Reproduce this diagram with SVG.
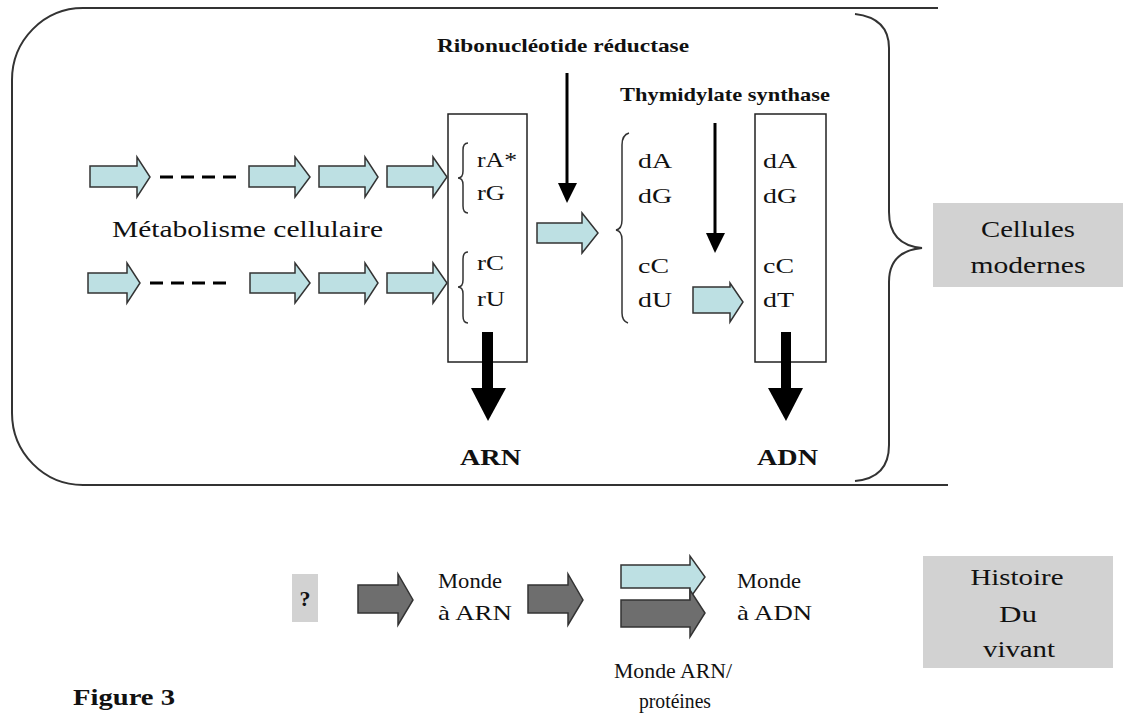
<svg xmlns="http://www.w3.org/2000/svg" width="1136" height="715" viewBox="0 0 1136 715">
<style>
text{font-family:"Liberation Serif","Times New Roman",serif;fill:#111}
.b{font-weight:bold}
.t24{font-size:24px}
.t22{font-size:22px}
.t19{font-size:19px}
.outline{fill:none;stroke:#333;stroke-width:2}
.brace{fill:none;stroke:#333;stroke-width:1.5}
.box{fill:#fff;stroke:#222;stroke-width:1.5}
.lb{fill:#bde0e3;stroke:#333;stroke-width:1.5;stroke-linejoin:miter}
.dk{fill:#6e6e6e;stroke:#333;stroke-width:1.5}
.gray{fill:#d2d2d2}
.dash{stroke:#000;stroke-width:3;stroke-dasharray:13 8}
.thin{stroke:#000;stroke-width:3}
</style>
<rect width="1136" height="715" fill="#fff"/>
<g id="frame">
<path class="outline" d="M938,8 L83,8 A71,72 0 0 0 12,80 L12,413 A71,72 0 0 0 83,485 L948,485"/>
<path class="outline" d="M855,14 Q889,18 889,48 L889,212 Q889,245 922,248 Q889,251 889,282 L889,445 Q889,478 855,481"/>
</g>
<g id="box-ribo">
<rect class="box" x="448" y="114" width="79" height="248"/>
<path class="brace" d="M468,143 Q463,143 463,150 L463,171 Q463,178 458,178 Q463,178 463,185 L463,206 Q463,213 468,213"/>
<path class="brace" d="M468,252 Q463,252 463,259 L463,280 Q463,287 458,287 Q463,287 463,294 L463,316 Q463,323 468,323"/>
<text class="t22" x="477" y="167" textLength="40" lengthAdjust="spacingAndGlyphs">rA*</text>
<text class="t22" x="477" y="200" textLength="28" lengthAdjust="spacingAndGlyphs">rG</text>
<text class="t22" x="477" y="270" textLength="27" lengthAdjust="spacingAndGlyphs">rC</text>
<text class="t22" x="477" y="306" textLength="28" lengthAdjust="spacingAndGlyphs">rU</text>
</g>
<g id="deoxy">
<path class="brace" d="M629,133 Q622,135 622,145 L622,220 Q622,229 616,230 Q622,231 622,240 L622,313 Q622,321 628,323"/>
<text class="t22" x="638" y="168" textLength="34" lengthAdjust="spacingAndGlyphs">dA</text>
<text class="t22" x="638" y="203" textLength="34" lengthAdjust="spacingAndGlyphs">dG</text>
<text class="t22" x="638" y="273" textLength="31" lengthAdjust="spacingAndGlyphs">cC</text>
<text class="t22" x="638" y="307" textLength="34" lengthAdjust="spacingAndGlyphs">dU</text>
</g>
<g id="box-dna">
<rect class="box" x="755" y="114" width="71" height="248"/>
<text class="t22" x="763" y="168" textLength="34" lengthAdjust="spacingAndGlyphs">dA</text>
<text class="t22" x="763" y="203" textLength="34" lengthAdjust="spacingAndGlyphs">dG</text>
<text class="t22" x="763" y="273" textLength="31" lengthAdjust="spacingAndGlyphs">cC</text>
<text class="t22" x="763" y="307" textLength="31" lengthAdjust="spacingAndGlyphs">dT</text>
</g>
<g id="labels">
<text class="t19 b" x="437" y="52" textLength="252" lengthAdjust="spacingAndGlyphs">Ribonucléotide réductase</text>
<text class="t19 b" x="620" y="101" textLength="210" lengthAdjust="spacingAndGlyphs">Thymidylate synthase</text>
<text class="t24" x="112" y="237" textLength="271" lengthAdjust="spacingAndGlyphs">Métabolisme cellulaire</text>
<text class="t24 b" x="460" y="465" textLength="61" lengthAdjust="spacingAndGlyphs">ARN</text>
<text class="t24 b" x="757" y="465" textLength="61" lengthAdjust="spacingAndGlyphs">ADN</text>
<text class="t24 b" x="73" y="705" textLength="102" lengthAdjust="spacingAndGlyphs">Figure 3</text>
</g>
<g id="cellules">
<rect class="gray" x="933" y="203" width="190" height="84"/>
<text class="t24" x="1028" y="237" text-anchor="middle" textLength="94" lengthAdjust="spacingAndGlyphs">Cellules</text>
<text class="t24" x="1028" y="273" text-anchor="middle" textLength="115" lengthAdjust="spacingAndGlyphs">modernes</text>
</g>
<g id="histoire">
<rect class="gray" x="923" y="556" width="190" height="112"/>
<text class="t24" x="1017" y="585" text-anchor="middle" textLength="93" lengthAdjust="spacingAndGlyphs">Histoire</text>
<text class="t24" x="1018" y="622" text-anchor="middle" textLength="38" lengthAdjust="spacingAndGlyphs">Du</text>
<text class="t24" x="1019" y="657" text-anchor="middle" textLength="72" lengthAdjust="spacingAndGlyphs">vivant</text>
</g>
<g id="bottom-row">
<rect class="gray" x="292" y="574" width="26" height="48"/>
<text class="b" style="font-size:22px" x="305" y="606" text-anchor="middle">?</text>
<text class="t22" x="438" y="588" textLength="64" lengthAdjust="spacingAndGlyphs">Monde</text>
<text class="t22" x="438" y="620" textLength="74" lengthAdjust="spacingAndGlyphs">à ARN</text>
<text class="t22" x="737" y="588" textLength="64" lengthAdjust="spacingAndGlyphs">Monde</text>
<text class="t22" x="737" y="620" textLength="75" lengthAdjust="spacingAndGlyphs">à ADN</text>
<text class="t22" x="673" y="678" text-anchor="middle" textLength="118" lengthAdjust="spacingAndGlyphs">Monde ARN/</text>
<text class="t22" x="675" y="708" text-anchor="middle" textLength="72" lengthAdjust="spacingAndGlyphs">protéines</text>
</g>
<g id="connectors">
<polygon class="lb" points="90,166 137,166 137,157 150,177 137,197 137,187 90,187"/>
<line class="dash" x1="160" y1="177" x2="238" y2="177"/>
<polygon class="lb" points="249,166 295,166 295,157 310,177 295,197 295,187 249,187"/>
<polygon class="lb" points="319,166 365,166 365,157 378,177 365,197 365,187 319,187"/>
<polygon class="lb" points="387,166 433,166 433,157 447,177 433,197 433,187 387,187"/>
<polygon class="lb" points="88,273 127,273 127,263 140,283 127,303 127,293 88,293"/>
<line class="dash" x1="150" y1="283" x2="228" y2="283"/>
<polygon class="lb" points="250,273 295,273 295,263 310,283 295,303 295,293 250,293"/>
<polygon class="lb" points="319,273 365,273 365,263 378,283 365,303 365,293 319,293"/>
<polygon class="lb" points="387,273 433,273 433,263 447,283 433,303 433,293 387,293"/>
<polygon class="lb" points="537,223 582,223 582,213 598,233 582,253 582,243 537,243"/>
<polygon class="lb" points="693,287 730,287 730,283 743,302 730,322 730,313 693,313"/>
<line class="thin" x1="567" y1="73" x2="567" y2="186"/>
<polygon points="558,183 577,183 567,203" fill="#000"/>
<line class="thin" x1="715" y1="123" x2="715" y2="236"/>
<polygon points="706,233 725,233 715,253" fill="#000"/>
<rect x="482" y="332" width="11" height="58" fill="#000"/>
<polygon points="471,388 506,388 488,421" fill="#000"/>
<rect x="781" y="332" width="10" height="58" fill="#000"/>
<polygon points="768,388 803,388 786,421" fill="#000"/>
<polygon class="dk" points="358,585 398,585 398,574 413,600 398,625 398,613 358,613"/>
<polygon class="dk" points="528,585 568,585 568,574 583,600 568,625 568,613 528,613"/>
<polygon class="lb" points="621,565 690,565 690,556 705,577 690,598 690,588 621,588"/>
<polygon class="dk" points="621,600 690,600 690,590 705,613 690,637 690,627 621,627"/>
</g>
</svg>
